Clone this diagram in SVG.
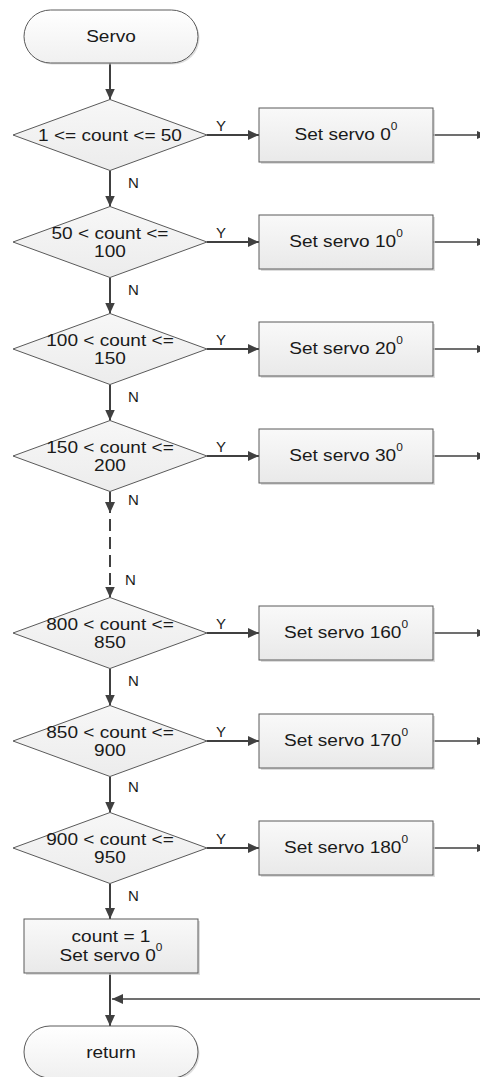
<svg xmlns="http://www.w3.org/2000/svg" width="480" height="1077" viewBox="0 0 480 1077">
<style>
.t{font-family:"Liberation Sans",Arial,sans-serif;font-size:16px;fill:#1a1a1a;text-anchor:middle}
.l{font-family:"Liberation Sans",Arial,sans-serif;font-size:15px;fill:#1a1a1a}
.sup{font-size:10px}
.shape{stroke:#5a5a5a;stroke-width:1}
.dia{fill:url(#gd)}
.box{fill:url(#gb)}
.term{fill:url(#gt)}
.sh{fill:#cfcfcf;opacity:0.7}
.c{stroke:#404040;stroke-width:2;fill:none}
.o{stroke:#404040;stroke-width:1.6;fill:none}
</style>
<defs>
<linearGradient id="gd" x1="0" y1="0" x2="0" y2="1"><stop offset="0" stop-color="#f7f7f7"/><stop offset="1" stop-color="#ececec"/></linearGradient>
<linearGradient id="gb" x1="0" y1="0" x2="0" y2="1"><stop offset="0" stop-color="#f9f9f9"/><stop offset="1" stop-color="#e9e9e9"/></linearGradient>
<linearGradient id="gt" x1="0" y1="0" x2="0" y2="1"><stop offset="0" stop-color="#ffffff"/><stop offset="1" stop-color="#f0f0f0"/></linearGradient>
<marker id="a" markerUnits="userSpaceOnUse" markerWidth="11" markerHeight="10" refX="11" refY="5" orient="auto"><path d="M0,0 L11,5 L0,10 z" fill="#404040"/></marker>
<marker id="s" markerUnits="userSpaceOnUse" markerWidth="9" markerHeight="8" refX="9" refY="4" orient="auto"><path d="M0,0 L9,4 L0,8 z" fill="#404040"/></marker>
</defs>

<g id="connectors">
<line class="c" x1="110" y1="63" x2="110" y2="99.5" marker-end="url(#a)"/>
<line class="c" x1="110" y1="170.5" x2="110" y2="206.5" marker-end="url(#a)"/>
<line class="c" x1="110" y1="277.5" x2="110" y2="313.5" marker-end="url(#a)"/>
<line class="c" x1="110" y1="384.5" x2="110" y2="420.5" marker-end="url(#a)"/>
<line class="c" x1="110" y1="491.5" x2="110" y2="513" marker-end="url(#a)"/>
<line class="c" x1="110" y1="519" x2="110" y2="597.5" stroke-dasharray="12 6" marker-end="url(#a)"/>
<line class="c" x1="110" y1="668.5" x2="110" y2="705.5" marker-end="url(#a)"/>
<line class="c" x1="110" y1="776.5" x2="110" y2="812.5" marker-end="url(#a)"/>
<line class="c" x1="110" y1="883.5" x2="110" y2="919" marker-end="url(#a)"/>
<line class="c" x1="110" y1="973" x2="110" y2="1026" marker-end="url(#a)"/>
<line class="o" x1="482" y1="999" x2="112" y2="999" marker-end="url(#a)"/>
<line class="c" x1="207" y1="135" x2="259" y2="135" marker-end="url(#a)"/>
<line class="c" x1="207" y1="242" x2="259" y2="242" marker-end="url(#a)"/>
<line class="c" x1="207" y1="349" x2="259" y2="349" marker-end="url(#a)"/>
<line class="c" x1="207" y1="456" x2="259" y2="456" marker-end="url(#a)"/>
<line class="c" x1="207" y1="633" x2="259" y2="633" marker-end="url(#a)"/>
<line class="c" x1="207" y1="741" x2="259" y2="741" marker-end="url(#a)"/>
<line class="c" x1="207" y1="848" x2="259" y2="848" marker-end="url(#a)"/>
<line class="o" x1="433" y1="135" x2="486" y2="135" marker-end="url(#s)"/>
<line class="o" x1="433" y1="242" x2="486" y2="242" marker-end="url(#s)"/>
<line class="o" x1="433" y1="349" x2="486" y2="349" marker-end="url(#s)"/>
<line class="o" x1="433" y1="456" x2="486" y2="456" marker-end="url(#s)"/>
<line class="o" x1="433" y1="633" x2="486" y2="633" marker-end="url(#s)"/>
<line class="o" x1="433" y1="741" x2="486" y2="741" marker-end="url(#s)"/>
<line class="o" x1="433" y1="848" x2="486" y2="848" marker-end="url(#s)"/>
<text class="l" x="216" y="131">Y</text>
<text class="l" x="216" y="238">Y</text>
<text class="l" x="216" y="345">Y</text>
<text class="l" x="216" y="452">Y</text>
<text class="l" x="216" y="629">Y</text>
<text class="l" x="216" y="737">Y</text>
<text class="l" x="216" y="844">Y</text>
<text class="l" x="128" y="188">N</text>
<text class="l" x="128" y="295">N</text>
<text class="l" x="128" y="402">N</text>
<text class="l" x="128" y="505">N</text>
<text class="l" x="125" y="585">N</text>
<text class="l" x="128" y="686">N</text>
<text class="l" x="128" y="792">N</text>
<text class="l" x="128" y="901">N</text>
</g>

<g id="start">
<rect class="sh" x="25.5" y="11.5" width="174" height="53" rx="26.5"/>
<rect class="shape term" x="24" y="10" width="174" height="53" rx="26.5"/>
<text class="t" transform="translate(111,42) scale(1.19,1)">Servo</text>
</g>

<g id="d1">
<polygon class="shape dia" points="110,99.5 207,135 110,170.5 13,135"/>
<text class="t" transform="translate(110,140.5) scale(1.19,1)">1 &lt;= count &lt;= 50</text>
</g>
<g id="r1">
<rect class="sh" x="261" y="110" width="174" height="54"/>
<rect class="shape box" x="259" y="108" width="174" height="54"/>
<text class="t" transform="translate(346,140) scale(1.19,1)">Set servo 0<tspan class="sup" dy="-10">0</tspan></text>
</g>

<g id="d2">
<polygon class="shape dia" points="110,206.5 207,242 110,277.5 13,242"/>
<text class="t" transform="translate(110,238.5) scale(1.19,1)">50 &lt; count &lt;=</text>
<text class="t" transform="translate(110,257) scale(1.19,1)">100</text>
</g>
<g id="r2">
<rect class="sh" x="261" y="217" width="174" height="54"/>
<rect class="shape box" x="259" y="215" width="174" height="54"/>
<text class="t" transform="translate(346,247) scale(1.19,1)">Set servo 10<tspan class="sup" dy="-10">0</tspan></text>
</g>

<g id="d3">
<polygon class="shape dia" points="110,313.5 207,349 110,384.5 13,349"/>
<text class="t" transform="translate(110,345.5) scale(1.19,1)">100 &lt; count &lt;=</text>
<text class="t" transform="translate(110,364) scale(1.19,1)">150</text>
</g>
<g id="r3">
<rect class="sh" x="261" y="324" width="174" height="54"/>
<rect class="shape box" x="259" y="322" width="174" height="54"/>
<text class="t" transform="translate(346,354) scale(1.19,1)">Set servo 20<tspan class="sup" dy="-10">0</tspan></text>
</g>

<g id="d4">
<polygon class="shape dia" points="110,420.5 207,456 110,491.5 13,456"/>
<text class="t" transform="translate(110,452.5) scale(1.19,1)">150 &lt; count &lt;=</text>
<text class="t" transform="translate(110,471) scale(1.19,1)">200</text>
</g>
<g id="r4">
<rect class="sh" x="261" y="431" width="174" height="54"/>
<rect class="shape box" x="259" y="429" width="174" height="54"/>
<text class="t" transform="translate(346,461) scale(1.19,1)">Set servo 30<tspan class="sup" dy="-10">0</tspan></text>
</g>

<g id="d5">
<polygon class="shape dia" points="110,597.5 207,633 110,668.5 13,633"/>
<text class="t" transform="translate(110,629.5) scale(1.19,1)">800 &lt; count &lt;=</text>
<text class="t" transform="translate(110,648) scale(1.19,1)">850</text>
</g>
<g id="r5">
<rect class="sh" x="261" y="608" width="174" height="54"/>
<rect class="shape box" x="259" y="606" width="174" height="54"/>
<text class="t" transform="translate(346,638) scale(1.19,1)">Set servo 160<tspan class="sup" dy="-10">0</tspan></text>
</g>

<g id="d6">
<polygon class="shape dia" points="110,705.5 207,741 110,776.5 13,741"/>
<text class="t" transform="translate(110,737.5) scale(1.19,1)">850 &lt; count &lt;=</text>
<text class="t" transform="translate(110,756) scale(1.19,1)">900</text>
</g>
<g id="r6">
<rect class="sh" x="261" y="716" width="174" height="54"/>
<rect class="shape box" x="259" y="714" width="174" height="54"/>
<text class="t" transform="translate(346,746) scale(1.19,1)">Set servo 170<tspan class="sup" dy="-10">0</tspan></text>
</g>

<g id="d7">
<polygon class="shape dia" points="110,812.5 207,848 110,883.5 13,848"/>
<text class="t" transform="translate(110,844.5) scale(1.19,1)">900 &lt; count &lt;=</text>
<text class="t" transform="translate(110,863) scale(1.19,1)">950</text>
</g>
<g id="r7">
<rect class="sh" x="261" y="823" width="174" height="54"/>
<rect class="shape box" x="259" y="821" width="174" height="54"/>
<text class="t" transform="translate(346,853) scale(1.19,1)">Set servo 180<tspan class="sup" dy="-10">0</tspan></text>
</g>

<g id="reset">
<rect class="sh" x="26" y="921" width="174" height="54"/>
<rect class="shape box" x="24" y="919" width="174" height="54"/>
<text class="t" transform="translate(111,942) scale(1.19,1)">count = 1</text>
<text class="t" transform="translate(111,960.5) scale(1.19,1)">Set servo 0<tspan class="sup" dy="-10">0</tspan></text>
</g>

<g id="end">
<rect class="sh" x="25.5" y="1027.5" width="174" height="52" rx="26"/>
<rect class="shape term" x="24" y="1026" width="174" height="52" rx="26"/>
<text class="t" transform="translate(111,1058) scale(1.19,1)">return</text>
</g>
</svg>
